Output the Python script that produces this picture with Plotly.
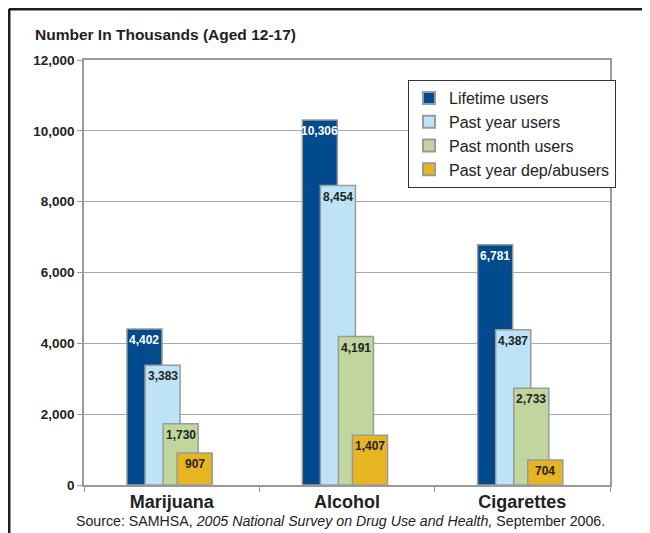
import plotly.graph_objects as go

categories = ["Marijuana", "Alcohol", "Cigarettes"]
series_names = ["Lifetime users", "Past year users", "Past month users", "Past year dep/abusers"]
lifetime = [4402, 10306, 6781]
past_year = [3383, 8454, 4387]
past_month = [1730, 4191, 2733]
dep_abusers = [907, 1407, 704]
y_ticks = [0, 2000, 4000, 6000, 8000, 10000, 12000]

values = [lifetime, past_year, past_month, dep_abusers]
colors = ["#004a8d", "#bde3f7", "#c1d59f", "#e7b522"]
text_colors = ["#ffffff", "#222222", "#222222", "#222222"]
offsets = [-0.255, -0.152, -0.049, 0.031]
bar_w = 0.2

FONT = "Liberation Sans, Arial, sans-serif"

fig = go.Figure()
for name, vals, col, off in zip(series_names, values, colors, offsets):
    fig.add_trace(go.Bar(
        x=categories, y=vals, name=name,
        offset=off, width=bar_w,
        marker=dict(color=col, line=dict(color="#9a9a9a", width=1.5)),
        hoverinfo="x+y+name",
    ))

# value labels at top inside each bar (positions derived from data)
for vals, tcol, off in zip(values, text_colors, offsets):
    for i, v in enumerate(vals):
        fig.add_annotation(
            x=i + off + bar_w / 2, y=v, xref="x", yref="y",
            text=f"<b>{v:,}</b>", showarrow=False,
            yanchor="top", xanchor="center", yshift=-2,
            font=dict(size=12, family=FONT, color=tcol),
        )

fig.update_layout(
    width=642, height=525,
    margin=dict(l=76, r=40, t=52, b=48),
    barmode="overlay",
    paper_bgcolor="white", plot_bgcolor="white",
    font=dict(family=FONT, color="#222222"),
    showlegend=True,
    legend=dict(
        x=0.616, y=0.953, xanchor="left", yanchor="top",
        bgcolor="white", bordercolor="#333333", borderwidth=1,
        font=dict(size=16, family=FONT, color="#222222"),
        itemsizing="constant", tracegroupgap=0,
    ),
    xaxis=dict(
        type="category", showline=True, linecolor="#9a9a9a", linewidth=1.5, mirror=True,
        ticks="outside", tickson="boundaries", ticklen=5, tickcolor="#9a9a9a",
        tickfont=dict(size=18, family=FONT, weight="bold", color="#222222"),
        showgrid=False, range=[-0.5, 2.5],
    ),
    yaxis=dict(
        range=[0, 12000], tickvals=y_ticks, tickformat=",",
        showline=True, linecolor="#9a9a9a", linewidth=1.5, mirror=True,
        ticks="outside", ticklen=5, tickcolor="#9a9a9a",
        showgrid=True, gridcolor="#a8a8a8", gridwidth=1.2,
        tickfont=dict(size=13.5, family=FONT, weight="bold", color="#222222"),
        zeroline=False,
    ),
)

fig.add_annotation(
    xref="paper", yref="paper", x=-0.097, y=1.059, xanchor="left", yanchor="middle",
    text="<b>Number In Thousands (Aged 12-17)</b>", showarrow=False,
    font=dict(size=15.5, family=FONT, color="#222222"),
)
fig.add_annotation(
    xref="paper", yref="paper", x=0.487, y=-0.085, xanchor="center", yanchor="middle",
    text="Source: SAMHSA, <i>2005 National Survey on Drug Use and Health,</i> September 2006.",
    showarrow=False, font=dict(size=14.2, family=FONT, color="#222222"),
)
# outer frame (left and top edges)
fig.add_shape(type="line", xref="paper", yref="paper", x0=-0.1426, x1=-0.1426, y0=-0.2, y1=1.12,
              line=dict(color="#1e1e1e", width=3))
fig.add_shape(type="line", xref="paper", yref="paper", x0=-0.1426, x1=1.2, y0=1.12, y1=1.12,
              line=dict(color="#1e1e1e", width=3))

fig.write_html("out.html")
